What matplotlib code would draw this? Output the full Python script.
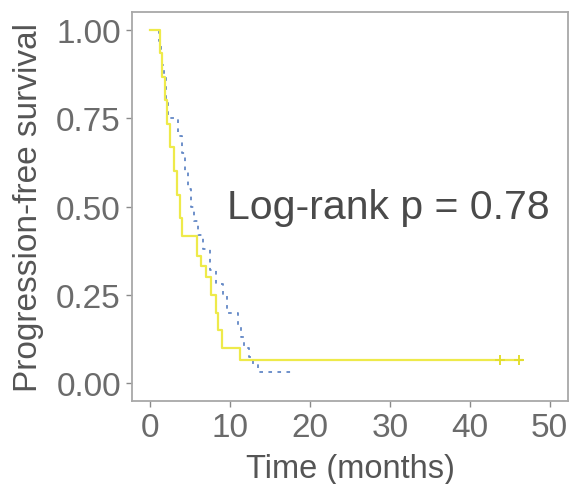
import numpy as np
import matplotlib
matplotlib.use('Agg')
import matplotlib.pyplot as plt

# yellow curve (solid)
yellow_time = [0, 1.2, 1.5, 1.8, 2.1, 2.5, 2.9, 3.3, 3.7, 4.0, 5.9, 6.3, 7.0, 7.6, 8.2, 8.5, 9.0, 11.2, 46.5]
yellow_surv = [1.0, 0.933, 0.867, 0.8, 0.733, 0.667, 0.6, 0.533, 0.467, 0.417, 0.36, 0.333, 0.30, 0.25, 0.20, 0.15, 0.10, 0.067, 0.067]
yellow_cens_t = [43.8, 46.2]
yellow_cens_s = [0.067, 0.067]

# blue curve (dotted)
blue_time = [0, 1.1, 1.3, 1.5, 1.7, 1.9, 2.0, 2.2, 3.5, 3.9, 4.3, 4.7, 5.1, 5.5, 6.0, 6.6, 7.5, 8.2, 9.1, 9.6, 11.0, 11.3, 11.7, 12.3, 12.9, 13.5, 17.7]
blue_surv = [1.0, 0.967, 0.933, 0.9, 0.867, 0.833, 0.8, 0.75, 0.7, 0.65, 0.6, 0.55, 0.5, 0.46, 0.42, 0.38, 0.32, 0.28, 0.25, 0.20, 0.16, 0.13, 0.10, 0.075, 0.055, 0.033, 0.033]

x_ticks = [0, 10, 20, 30, 40, 50]
y_ticks = [0.0, 0.25, 0.5, 0.75, 1.0]
y_ticklabels = ['0.00', '0.25', '0.50', '0.75', '1.00']

plt.rcParams['font.family'] = ['Liberation Sans', 'DejaVu Sans']

fig = plt.figure(figsize=(5.71, 4.85), dpi=100)
ax = fig.add_axes([0.2312, 0.1711, 0.7635, 0.8021])

ax.step(yellow_time, yellow_surv, where='post', color='#EEEA4A', linewidth=1.6, zorder=3)
ax.plot(yellow_cens_t, yellow_cens_s, linestyle='none', marker='+', markersize=7,
        markeredgewidth=1.4, color='#E3DE30', zorder=4)
ax.step(blue_time, blue_surv, where='post', color='#6388C6', linewidth=1.3,
        linestyle=(0, (2, 3)), zorder=2)

ax.text(29.8, 0.50, 'Log-rank p = 0.78', fontsize=29.5, color='#4A4A4A',
        ha='center', va='center')

ax.set_xlim(-2.3, 52.3)
ax.set_ylim(-0.05, 1.05)
ax.set_xticks(x_ticks)
ax.set_yticks(y_ticks)
ax.set_yticklabels(y_ticklabels)
ax.tick_params(axis='both', labelsize=24, labelcolor='#6B6B6B', color='#8A8A8A',
               length=4, width=1.0, pad=4)

ax.set_xlabel('Time (months)', fontsize=23.5, color='#555555', labelpad=7)
ax.set_ylabel('Progression-free survival', fontsize=24, color='#555555', labelpad=9)

for sp in ax.spines.values():
    sp.set_color('#A8A8A8')
    sp.set_linewidth(1.3)

fig.savefig('out.png', dpi=100, facecolor='white')
